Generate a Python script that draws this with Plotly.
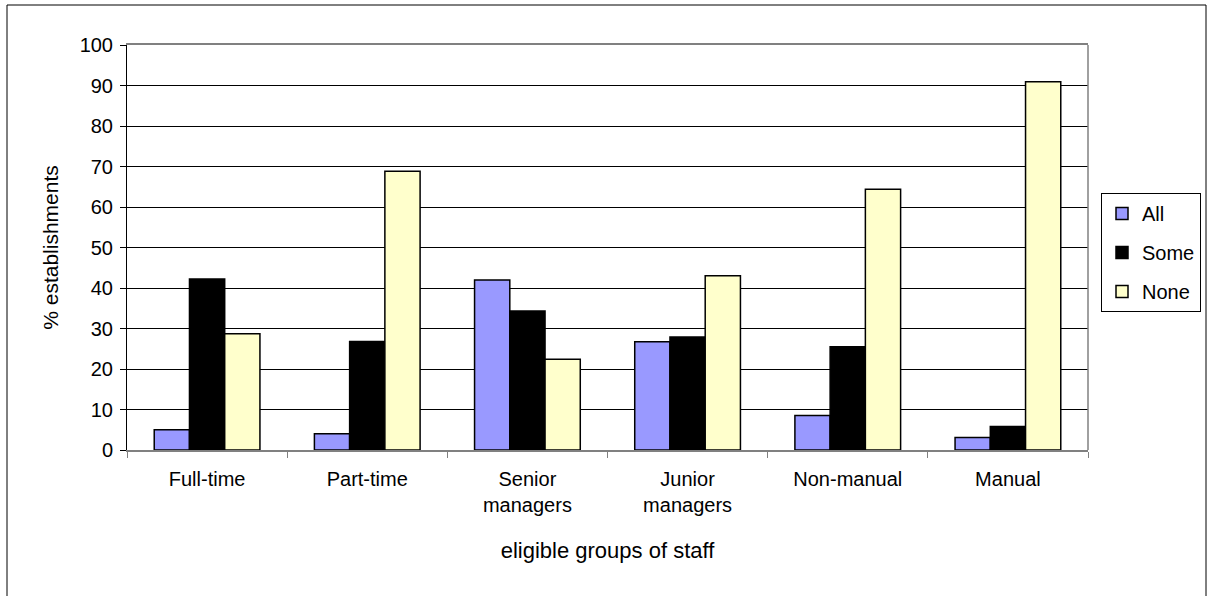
import plotly.graph_objects as go

# eligible groups of staff and % of establishments per eligibility level
groups = ['Full-time', 'Part-time', 'Senior<br>managers', 'Junior<br>managers', 'Non-manual', 'Manual']
all_staff = [5.0, 4.0, 42.0, 26.7, 8.5, 3.1]
some_staff = [42.2, 26.8, 34.3, 27.9, 25.5, 5.8]
no_staff = [28.7, 68.8, 22.4, 43.0, 64.4, 90.9]

series = [('All', all_staff, '#9999FF'), ('Some', some_staff, '#000000'), ('None', no_staff, '#FFFFCC')]

font = dict(family='Liberation Sans, Arial, sans-serif', size=20, color='#000000')

fig = go.Figure()
for name, vals, color in series:
    fig.add_bar(x=groups, y=vals, name=name, legendgroup=name,
                marker=dict(color=color, line=dict(color='#000000', width=1.5)))

fig.update_layout(
    width=1207, height=596,
    margin=dict(l=127, r=119, t=45, b=146),
    paper_bgcolor='white', plot_bgcolor='white',
    font=font,
    barmode='group', bargap=0.34, bargroupgap=0,
    showlegend=True,
    # legend placed in container pixels so it doesn't push the right margin
    legend=dict(xref='container', yref='container', x=1101 / 1207, y=1 - 193 / 596,
                xanchor='left', yanchor='top',
                bordercolor='#000000', borderwidth=1, bgcolor='white',
                font=font, tracegroupgap=10, itemwidth=30),
)

fig.update_xaxes(
    showline=True, linecolor='#808080', linewidth=1.5, mirror=True,
    ticks='outside', tickson='boundaries', ticklen=6, tickcolor='#808080',
    ticklabelstandoff=10,
    showgrid=False,
    title=dict(text='eligible groups of staff', standoff=28, font=dict(size=22)),
)
fig.update_yaxes(
    range=[0, 100], dtick=10,
    showline=True, linecolor='#000000', linewidth=1,
    ticks='outside', ticklen=6, tickcolor='#000000',
    ticklabelstandoff=3,
    showgrid=True, gridcolor='#000000', gridwidth=1, zeroline=False,
    title=dict(text='% establishments', standoff=15, font=dict(size=21)),
)

# gray right edge of plot area
fig.add_shape(type='line', xref='paper', yref='paper', x0=1, x1=1, y0=0, y1=1,
              line=dict(color='#808080', width=1.5))
# outer chart border
fig.add_shape(type='rect', xref='paper', yref='paper',
              x0=(7 - 127) / 961, x1=(1206 - 127) / 961, y0=-0.5, y1=(450 - 5) / 405,
              line=dict(color='#000000', width=1))

fig.write_html("out.html", config={'responsive': False, 'displayModeBar': False},
               post_script="document.body.style.margin='0';document.body.style.overflow='hidden';")
